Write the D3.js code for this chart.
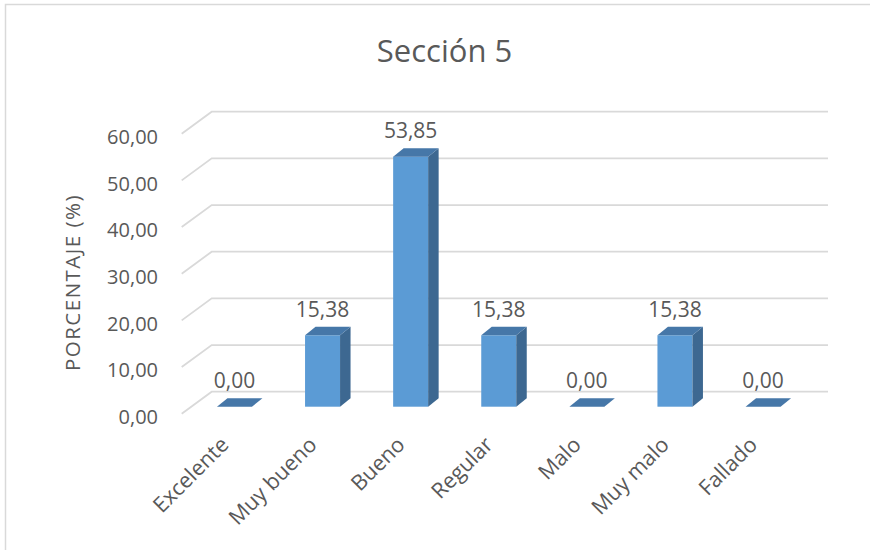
<!DOCTYPE html>
<html>
<head>
<meta charset="utf-8">
<script src="https://cdn.jsdelivr.net/npm/d3@7"></script>
<style>
  html, body { margin: 0; padding: 0; background: #fff; }
  svg { display: block; font-family: "Open Sans", "Noto Sans", sans-serif; }
</style>
</head>
<body>
<svg id="chart" width="870" height="550"></svg>
<script>
// Survey results, section 5 (percent of answers per rating)
const categories = ["Excelente", "Muy bueno", "Bueno", "Regular", "Malo", "Muy malo", "Fallado"];
const values = [0.00, 15.38, 53.85, 15.38, 0.00, 15.38, 0.00];
const yTicks = [0, 10, 20, 30, 40, 50, 60];
const yTickLabels = ["0,00", "10,00", "20,00", "30,00", "40,00", "50,00", "60,00"];
const title = "Sección 5";
const yTitle = "PORCENTAJE (%)";

const fmt = v => v.toFixed(2).replace(".", ",");

const svg = d3.select("#chart");
const textColor = "#595959";
const gridColor = "#d9d9d9";

// chart area frame (top and left edges)
svg.append("path")
  .attr("d", "M5.5,550 V4.5 H870")
  .attr("fill", "none")
  .attr("stroke", gridColor)
  .attr("stroke-width", 1.5);

// 3D layout: back wall, floor depth offset, bar depth offset
const wallLeft = 211.7, wallRight = 828;
const floorDx = -30, floorDy = 22;
const barDx = 10.5, barDy = -8.5;
const barWidth = 35;

// value scale on the back wall, value scale on the bar front faces
const yWall = d3.scaleLinear().domain([0, 60]).range([391.7, 111.7]);
const yBar = d3.scaleLinear().domain([0, 60]).range([406.7, 128.1]);

// category band along the bar front faces
const x = d3.scaleBand().domain(categories).range([190.4, 807.1]).padding(0);

// gridlines: back wall line plus the receding diagonal to the front
const grid = svg.append("g");
yTicks.forEach(t => {
  const yy = yWall(t);
  grid.append("path")
    .attr("d", `M${wallRight},${yy} H${wallLeft} L${wallLeft + floorDx},${yy + floorDy}`)
    .attr("fill", "none")
    .attr("stroke", gridColor)
    .attr("stroke-width", 1.8);
});

// value axis labels
svg.append("g").selectAll("text")
  .data(yTicks)
  .join("text")
  .attr("x", 158)
  .attr("y", d => yWall(d) + floorDy + 3)
  .attr("dy", "0.36em")
  .attr("text-anchor", "end")
  .attr("fill", textColor)
  .attr("font-size", 20)
  .text((d, i) => yTickLabels[i]);

// bars
const bars = svg.append("g");
categories.forEach((c, i) => {
  const v = values[i];
  const x0 = x(c) + (x.bandwidth() - barWidth) / 2;
  const x1 = x0 + barWidth;
  const yb = yBar(0);
  const yt = yBar(v);
  const g = bars.append("g");
  if (yb - yt > 0.5) {
    // front face
    g.append("rect")
      .attr("x", x0).attr("y", yt)
      .attr("width", barWidth).attr("height", yb - yt)
      .attr("fill", "#5b9bd5");
    // right side face
    g.append("path")
      .attr("d", `M${x1},${yt} L${x1 + barDx},${yt + barDy} L${x1 + barDx},${yb + barDy} L${x1},${yb} Z`)
      .attr("fill", "#3d6891");
  }
  // top face
  g.append("path")
    .attr("d", `M${x0},${yt} L${x0 + barDx},${yt + barDy} L${x1 + barDx},${yt + barDy} L${x1},${yt} Z`)
    .attr("fill", "#4677a8");

  // data label
  svg.append("text")
    .attr("x", x0 + barWidth / 2)
    .attr("y", yt + barDy - 10)
    .attr("text-anchor", "middle")
    .attr("fill", textColor)
    .attr("font-size", 21)
    .text(fmt(v));
});

// category labels, rotated
svg.append("g").selectAll("text")
  .data(categories)
  .join("text")
  .attr("transform", d => `translate(${x(d) + x.bandwidth() / 2 - 4.5},446) rotate(-45)`)
  .attr("text-anchor", "end")
  .attr("fill", textColor)
  .attr("font-size", 21.5)
  .text(d => d);

// axis title
svg.append("text")
  .attr("transform", "translate(80,282.5) rotate(-90)")
  .attr("text-anchor", "middle")
  .attr("fill", textColor)
  .attr("font-size", 20.5)
  .attr("letter-spacing", 1.5)
  .text(yTitle);

// chart title
svg.append("text")
  .attr("x", 444.5)
  .attr("y", 62)
  .attr("text-anchor", "middle")
  .attr("fill", textColor)
  .attr("font-size", 31)
  .text(title);
</script>
</body>
</html>
